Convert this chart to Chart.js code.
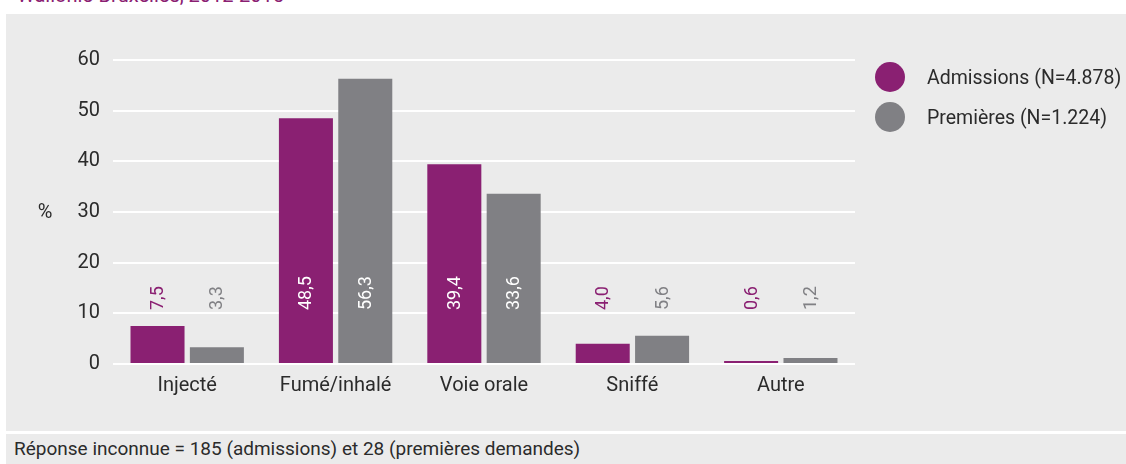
<!DOCTYPE html>
<html>
<head>
<meta charset="utf-8">
<script src="https://cdn.jsdelivr.net/npm/chart.js@4.4.1/dist/chart.umd.min.js"></script>
<style>
  body { margin: 0; background: #fff; width: 1126px; height: 464px; overflow: hidden; position: relative;
         font-family: Roboto, sans-serif; }
  #title { position: absolute; left: 17px; top: -17px; font-size: 20px; color: #8a2072; white-space: nowrap; }
  #panel { position: absolute; left: 6px; top: 14px; width: 1120px; height: 417px; background: #ebebeb; }
  #foot { position: absolute; left: 6px; top: 434px; width: 1120px; height: 30px; background: #ebebeb;
          font-size: 19px; color: #2b2b2b; line-height: 30px; text-indent: 8px; white-space: nowrap; }
  #legend { position: absolute; left: 869px; top: 43px; font-size: 19.5px; color: #2b2b2b; }
  .item { height: 40px; display: flex; align-items: center; white-space: nowrap; }
  .dot { width: 30px; height: 30px; border-radius: 50%; margin-right: 22px; }
</style>
</head>
<body>
<div id="title">Wallonie-Bruxelles, 2012-2015</div>
<div id="panel">
  <canvas id="chart" width="1120" height="417"></canvas>
  <div id="legend"></div>
</div>
<div id="foot">Réponse inconnue = 185 (admissions) et 28 (premières demandes)</div>
<script>
const categories = ["Injecté", "Fumé/inhalé", "Voie orale", "Sniffé", "Autre"];
const seriesNames = ["Admissions (N=4.878)", "Premières (N=1.224)"];
const admissions = [7.5, 48.5, 39.4, 4.0, 0.6];
const premieres = [3.3, 56.3, 33.6, 5.6, 1.2];
const yTicks = [0, 10, 20, 30, 40, 50, 60];

const PURPLE = "#8a2072";
const GREY = "#808084";
const TEXT = "#2b2b2b";
const FONT = "Roboto, sans-serif";

// legend
const legendEl = document.getElementById("legend");
[PURPLE, GREY].forEach((c, i) => {
  const d = document.createElement("div");
  d.className = "item";
  d.innerHTML = '<span class="dot" style="background:' + c + '"></span>' + seriesNames[i];
  legendEl.appendChild(d);
});

// value labels, rotated, all starting at the same height
const valueLabels = {
  id: "valueLabels",
  afterDatasetsDraw(chart) {
    const ctx = chart.ctx;
    const y0 = chart.scales.y.getPixelForValue(0) - 54;
    ctx.save();
    ctx.font = "18px " + FONT;
    ctx.textAlign = "left";
    ctx.textBaseline = "middle";
    chart.data.datasets.forEach((ds, di) => {
      chart.getDatasetMeta(di).data.forEach((bar, i) => {
        const v = ds.data[i];
        const inside = bar.y < y0 - 40;
        ctx.fillStyle = inside ? "#ffffff" : ds.backgroundColor;
        ctx.save();
        ctx.translate(bar.x, y0);
        ctx.rotate(-Math.PI / 2);
        ctx.fillText(v.toFixed(1).replace(".", ","), 0, 1);
        ctx.restore();
      });
    });
    // unit label
    ctx.fillStyle = TEXT;
    ctx.textAlign = "center";
    ctx.font = "20px " + FONT;
    ctx.fillText("%", 39, chart.scales.y.getPixelForValue(30) + 1);
    ctx.restore();
  }
};

new Chart(document.getElementById("chart"), {
  type: "bar",
  data: {
    labels: categories,
    datasets: [
      { label: seriesNames[0], data: admissions, backgroundColor: PURPLE },
      { label: seriesNames[1], data: premieres, backgroundColor: GREY }
    ]
  },
  options: {
    responsive: false,
    animation: false,
    maintainAspectRatio: false,
    layout: { padding: { left: 0, top: 46, right: 271, bottom: 0 } },
    datasets: { bar: { categoryPercentage: 0.8, barPercentage: 0.91 } },
    plugins: { legend: { display: false }, tooltip: { enabled: false } },
    scales: {
      x: {
        grid: { display: false },
        border: { display: false },
        ticks: { color: TEXT, font: { family: FONT, size: 20 }, padding: 2 },
        afterFit(s) { s.height = 67; }
      },
      y: {
        min: 0,
        max: 60,
        afterBuildTicks(s) { s.ticks = yTicks.map(v => ({ value: v })); },
        grid: { color: "#ffffff", lineWidth: 2, drawTicks: false },
        border: { display: false },
        ticks: { color: TEXT, font: { family: FONT, size: 20 }, padding: 13 },
        afterFit(s) { s.width = 107; }
      }
    }
  },
  plugins: [valueLabels]
});
</script>
</body>
</html>
